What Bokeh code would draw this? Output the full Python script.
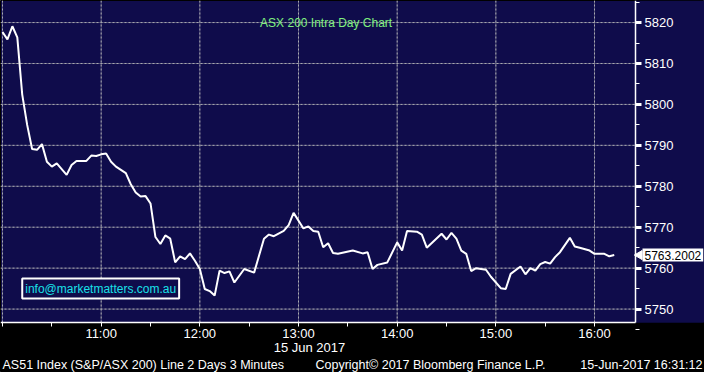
import math
from bokeh.plotting import figure
from bokeh.models import (FixedTicker, Label, Range1d, LinearAxis, Grid, BoxAnnotation)
from bokeh.embed import file_html
from bokeh.resources import INLINE

# ---- data (ASX 200, 15 Jun 2017, 3-minute bars) ----
times = ["10:00", "10:03", "10:06", "10:09", "10:12", "10:15", "10:18", "10:21", "10:24", "10:27",
         "10:30", "10:33", "10:39", "10:42", "10:45", "10:51", "10:54", "10:57", "11:00", "11:03",
         "11:06", "11:09", "11:15", "11:18", "11:21", "11:24", "11:27", "11:30", "11:33", "11:36",
         "11:39", "11:42", "11:45", "11:48", "11:51", "11:54", "11:57", "12:00", "12:03", "12:06",
         "12:09", "12:12", "12:15", "12:18", "12:21", "12:27", "12:33", "12:39", "12:42", "12:45",
         "12:51", "12:54", "12:57", "13:03", "13:06", "13:09", "13:12", "13:15", "13:18", "13:21",
         "13:24", "13:33", "13:39", "13:42", "13:45", "13:48", "13:54", "14:00", "14:03", "14:06",
         "14:12", "14:15", "14:18", "14:27", "14:30", "14:33", "14:36", "14:39", "14:42", "14:45",
         "14:48", "14:54", "14:57", "15:03", "15:06", "15:09", "15:15", "15:18", "15:21", "15:24",
         "15:27", "15:30", "15:33", "15:36", "15:39", "15:45", "15:48", "15:51", "15:57", "16:00",
         "16:06", "16:09", "16:12"]
values = [5817.7, 5815.9, 5819.1, 5816.4, 5802.4, 5795.0, 5789.1, 5788.9, 5790.3, 5786.0,
          5784.8, 5785.6, 5782.8, 5785.2, 5786.2, 5786.2, 5787.5, 5787.4, 5787.8, 5788.0,
          5786.0, 5784.8, 5783.2, 5780.5, 5778.5, 5777.5, 5777.6, 5775.8, 5767.6, 5765.9,
          5768.0, 5767.2, 5761.4, 5762.9, 5762.2, 5763.6, 5761.8, 5759.8, 5754.9, 5754.4,
          5753.3, 5759.4, 5758.8, 5759.2, 5756.5, 5759.8, 5758.9, 5767.2, 5768.2, 5767.8,
          5769.1, 5770.5, 5773.5, 5769.7, 5770.2, 5769.1, 5768.9, 5765.1, 5766.1, 5763.7,
          5763.5, 5764.3, 5763.6, 5763.9, 5759.8, 5760.8, 5761.4, 5766.3, 5764.3, 5769.1,
          5768.9, 5768.2, 5765.0, 5768.4, 5767.0, 5768.6, 5767.2, 5764.3, 5763.5, 5759.3,
          5760.0, 5759.6, 5757.9, 5755.1, 5754.9, 5758.6, 5760.4, 5758.5, 5760.0, 5759.4,
          5761.0, 5761.5, 5761.1, 5762.7, 5763.9, 5767.4, 5765.3, 5765.0, 5764.3, 5763.5,
          5763.5, 5762.9, 5763.2]
last_value = 5763.2002
hour_ticks = [10, 11, 12, 13, 14, 15, 16]
half_ticks = [10.5, 11.5, 12.5, 13.5, 14.5, 15.5]
hour_labels = ["", "11:00", "12:00", "13:00", "14:00", "15:00", "16:00"]
y_ticks = [5750, 5760, 5770, 5780, 5790, 5800, 5810, 5820]
y_minor = [5745, 5755, 5765, 5775, 5785, 5795, 5805, 5815, 5825]

title_text = "ASX 200 Intra Day Chart"
email_text = "info@marketmatters.com.au"
date_text = "15 Jun 2017"
footer_left = "AS51 Index (S&P/ASX 200) Line 2 Days 3 Minutes"
footer_mid = "Copyright\u00a9 2017 Bloomberg Finance L.P."
footer_right = "15-Jun-2017 16:31:12"

hours = [int(t.split(":")[0]) + int(t.split(":")[1]) / 60 for t in times]

# ---- layout (pixels) ----
W, H = 704, 372          # canvas
PW, PH = 635, 322        # chart area (navy) inside the canvas
X0 = 9.9797              # time at left edge of chart area (hours)
PX_PER_H = 98.67
Y_TOP = 5825.39          # value at top edge
PX_PER_U = 4.0931
X_END = X0 + PW / PX_PER_H           # right edge of chart area
X_CANVAS = X0 + W / PX_PER_H         # right edge of canvas
Y_BOT = Y_TOP - PH / PX_PER_U        # bottom edge of chart area
Y_CANVAS = Y_TOP - H / PX_PER_U      # bottom edge of canvas

NAVY = "#0f0c4b"
GRID = "#a8a8b0"
FONT = "Liberation Sans"

p = figure(width=W, height=H, output_backend="svg", toolbar_location=None,
           x_axis_location=None, y_axis_location=None,
           x_range=Range1d(X0, X_CANVAS), y_range=Range1d(Y_CANVAS, Y_TOP),
           min_border=0)
p.center = [r for r in p.center if not isinstance(r, Grid)]
p.background_fill_color = NAVY
p.border_fill_color = "black"
p.outline_line_color = "black"

# black strip under the chart, navy strip right of it
p.add_layout(BoxAnnotation(left=X0, right=X_CANVAS, bottom=Y_CANVAS, top=Y_BOT,
                           fill_color="black", fill_alpha=1, line_color=None, level="underlay"))
p.add_layout(BoxAnnotation(left=X_END, right=X_CANVAS, bottom=Y_BOT, top=Y_TOP,
                           fill_color=NAVY, fill_alpha=1, line_color=None, level="underlay"))

# grid lines at the major ticks, limited to the chart area:
# a faint solid line plus a dotted line on top
nx, ny = len(hour_ticks), len(y_ticks)
for dash, alpha in (("solid", 0.4), ("2 2", 1.0)):
    p.segment(x0=hour_ticks, x1=hour_ticks, y0=[Y_BOT] * nx, y1=[Y_TOP] * nx,
              line_color=GRID, line_alpha=alpha, line_dash=dash, line_width=1)
    p.segment(x0=[X0] * ny, x1=[X_END] * ny, y0=y_ticks, y1=y_ticks,
              line_color=GRID, line_alpha=alpha, line_dash=dash, line_width=1)

p.line(hours, values, line_color="white", line_width=2)

# x axis
xaxis = LinearAxis(fixed_location=Y_BOT, bounds=(X0, X_END),
                   ticker=FixedTicker(ticks=hour_ticks + half_ticks, minor_ticks=[]))
xaxis.major_label_overrides = {**{float(h): l for h, l in zip(hour_ticks, hour_labels)},
                               **{float(h): "" for h in half_ticks}}
xaxis.axis_line_color = "white"
xaxis.axis_line_width = 1.5
xaxis.major_tick_line_color = "white"
xaxis.major_tick_in = 0
xaxis.major_tick_out = 4
xaxis.minor_tick_line_color = None
xaxis.major_label_text_color = "white"
xaxis.major_label_text_font = FONT
xaxis.major_label_text_font_size = "13px"
xaxis.major_label_standoff = -1
p.add_layout(xaxis, "below")

# y axis (right)
yaxis = LinearAxis(fixed_location=X_END, bounds=(Y_BOT, Y_TOP),
                   ticker=FixedTicker(ticks=y_ticks, minor_ticks=y_minor))
yaxis.axis_line_color = "white"
yaxis.axis_line_width = 1.5
yaxis.major_tick_line_color = "white"
yaxis.major_tick_line_width = 3
yaxis.major_tick_in = 0
yaxis.major_tick_out = 6
yaxis.minor_tick_line_color = "white"
yaxis.minor_tick_in = 0
yaxis.minor_tick_out = 4
yaxis.major_label_text_color = "white"
yaxis.major_label_text_font = FONT
yaxis.major_label_text_font_size = "13px"
yaxis.major_label_standoff = 3
p.add_layout(yaxis, "right")

# in-chart texts
p.add_layout(Label(x=13.28, y=5819.8, text=title_text, text_color="#7ff07f",
                   text_font=FONT, text_font_size="12px", text_align="center",
                   text_baseline="middle"))
p.add_layout(Label(x=10.2, y=5755.0, text=email_text, text_color="#19e0e8",
                   text_font=FONT, text_font_size="12px", text_align="left",
                   text_baseline="middle", background_fill_color=NAVY,
                   border_line_color="white", border_line_width=2,
                   padding=3))

# last value tag on the right axis
p.scatter(x=[X_END + 4 / PX_PER_H], y=[last_value], marker="triangle", size=9,
          angle=math.pi / 2, fill_color="white", line_color="white")
p.add_layout(Label(x=X_END + 7 / PX_PER_H, y=last_value, text=f"{last_value:.4f}",
                   text_color="black", text_font=FONT, text_font_size="12px",
                   text_align="left", text_baseline="middle",
                   background_fill_color="white", padding=2))

# bottom texts
p.add_layout(Label(x=309, y=347, x_units="canvas", y_units="canvas", text=date_text,
                   text_color="white", text_font=FONT, text_font_size="13px",
                   text_align="center", text_baseline="middle"))
p.add_layout(Label(x=2, y=364, x_units="canvas", y_units="canvas", text=footer_left,
                   text_color="white", text_font=FONT, text_font_size="12.5px",
                   text_align="left", text_baseline="middle"))
p.add_layout(Label(x=315, y=364, x_units="canvas", y_units="canvas", text=footer_mid,
                   text_color="white", text_font=FONT, text_font_size="12.5px",
                   text_align="left", text_baseline="middle"))
p.add_layout(Label(x=702, y=364, x_units="canvas", y_units="canvas", text=footer_right,
                   text_color="white", text_font=FONT, text_font_size="12.5px",
                   text_align="right", text_baseline="middle"))

open("out.html", "w").write(file_html(p, INLINE))
